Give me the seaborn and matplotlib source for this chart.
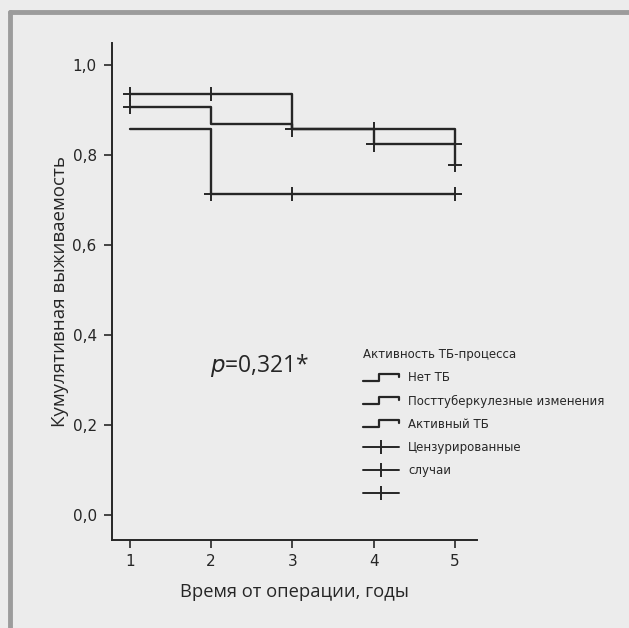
import matplotlib
matplotlib.use("Agg")
import matplotlib.pyplot as plt
from matplotlib.lines import Line2D
from matplotlib.legend_handler import HandlerBase
import seaborn as sns
import pandas as pd

# ---- data ----
times = [1, 2, 3, 4, 5]
surv_none = [0.936, 0.936, 0.857, 0.857, 0.778]
surv_post = [0.907, 0.868, 0.857, 0.824, 0.824]
surv_active = [0.857, 0.713, 0.713, 0.713, 0.713]

cens_none_t = [1, 2, 4, 5]
cens_none_s = [0.936, 0.936, 0.857, 0.778]
cens_post_t = [1, 3, 4, 5]
cens_post_s = [0.907, 0.857, 0.824, 0.824]
cens_active_t = [2, 3, 5]
cens_active_s = [0.713, 0.713, 0.713]

group_labels = ["Нет ТБ", "Посттуберкулезные изменения", "Активный ТБ"]
censor_labels = ["Цензурированные", "случаи", ""]
legend_title = "Активность ТБ-процесса"
x_ticks = [1, 2, 3, 4, 5]
y_ticks = [0.0, 0.2, 0.4, 0.6, 0.8, 1.0]
y_ticklabels = ["0,0", "0,2", "0,4", "0,6", "0,8", "1,0"]

curves = pd.concat([
    pd.DataFrame({"t": times, "s": surv_none, "g": group_labels[0]}),
    pd.DataFrame({"t": times, "s": surv_post, "g": group_labels[1]}),
    pd.DataFrame({"t": times, "s": surv_active, "g": group_labels[2]}),
])
cens = pd.concat([
    pd.DataFrame({"t": cens_none_t, "s": cens_none_s, "g": group_labels[0]}),
    pd.DataFrame({"t": cens_post_t, "s": cens_post_s, "g": group_labels[1]}),
    pd.DataFrame({"t": cens_active_t, "s": cens_active_s, "g": group_labels[2]}),
])

sns.set_style("ticks")
bg = "#ececec"
ink = "#262626"
plt.rcParams["font.family"] = ["Open Sans", "DejaVu Sans"]

fig = plt.figure(figsize=(6.29, 6.28), dpi=100, facecolor=bg)
ax = fig.add_axes([0.178, 0.140, 0.580, 0.7915])
ax.set_facecolor(bg)

pal = {g: ink for g in group_labels}
sns.lineplot(data=curves, x="t", y="s", hue="g", palette=pal, ax=ax,
             drawstyle="steps-post", linewidth=1.7, legend=False,
             estimator=None, sort=False)
sns.scatterplot(data=cens, x="t", y="s", hue="g", palette=pal, ax=ax,
                marker="+", s=110, linewidth=1.4, legend=False, zorder=5)

ax.set_xlim(0.78, 5.27)
ax.set_ylim(-0.056, 1.049)
ax.set_xticks(x_ticks)
ax.set_xticklabels([str(t) for t in x_ticks])
ax.set_yticks(y_ticks)
ax.set_yticklabels(y_ticklabels)
narrow = ["Liberation Sans Narrow", "DejaVu Sans"]
for lab in ax.get_xticklabels() + ax.get_yticklabels():
    lab.set_family(narrow)
    lab.set_fontsize(11)
    lab.set_color(ink)
ax.tick_params(axis="x", length=6, width=1.2, color=ink, pad=4)
ax.tick_params(axis="y", length=6, width=1.2, color=ink, pad=5)
for sp in ["top", "right"]:
    ax.spines[sp].set_visible(False)
for sp in ["left", "bottom"]:
    ax.spines[sp].set_linewidth(1.4)
    ax.spines[sp].set_color(ink)

ax.set_xlabel("Время от операции, годы", fontsize=13.2, color=ink, labelpad=10)
ax.set_ylabel("Кумулятивная выживаемость", fontsize=13.5, color=ink)
ax.yaxis.set_label_coords(-0.118, 0.5)

ax.text(0.268, 0.352, "$\\it{p}$=0,321*", transform=ax.transAxes,
        fontsize=16.5, color=ink, ha="left", va="center")


class HandlerStep(HandlerBase):
    def create_artists(self, legend, orig_handle, xdescent, ydescent,
                       width, height, fontsize, trans):
        x0 = -xdescent
        y0 = -ydescent
        lo = y0 + height * 0.05
        hi = y0 + height * 0.95
        xs = [x0, x0 + width * 0.45, x0 + width * 0.45, x0 + width, x0 + width]
        ys = [lo, lo, hi, hi, hi - height * 0.4]
        ln = Line2D(xs, ys, color=ink, linewidth=1.6, transform=trans)
        return [ln]


step_handles = [Line2D([], [], color=ink) for _ in group_labels]
cens_handles = [Line2D([], [], color=ink, linewidth=1.4, marker="|",
                       markersize=10, markeredgewidth=1.4) for _ in censor_labels]
handles = step_handles + cens_handles
labels = group_labels + censor_labels
hmap = {h: HandlerStep() for h in step_handles}
leg = ax.legend(handles, labels, handler_map=hmap, loc="upper left",
                bbox_to_anchor=(355 / 629, 1 - 340 / 628),
                bbox_transform=fig.transFigure, frameon=False,
                title=legend_title, prop={"family": narrow, "size": 8.5},
                title_fontproperties={"family": narrow, "size": 8.5},
                handlelength=3.0, handletextpad=0.8, labelspacing=0.86,
                alignment="left", borderpad=0.2, markerfirst=True)
for t in leg.get_texts():
    t.set_color(ink)
leg.get_title().set_color(ink)

# scanned page frame
fig.add_artist(Line2D([10 / 629, 1], [1 - 12 / 628, 1 - 12 / 628],
                      transform=fig.transFigure, color="#9c9c9c", linewidth=3.5))
fig.add_artist(Line2D([10 / 629, 10 / 629], [0, 1 - 12 / 628],
                      transform=fig.transFigure, color="#9c9c9c", linewidth=3.5))

fig.savefig("out.png", dpi=100, facecolor=bg)
